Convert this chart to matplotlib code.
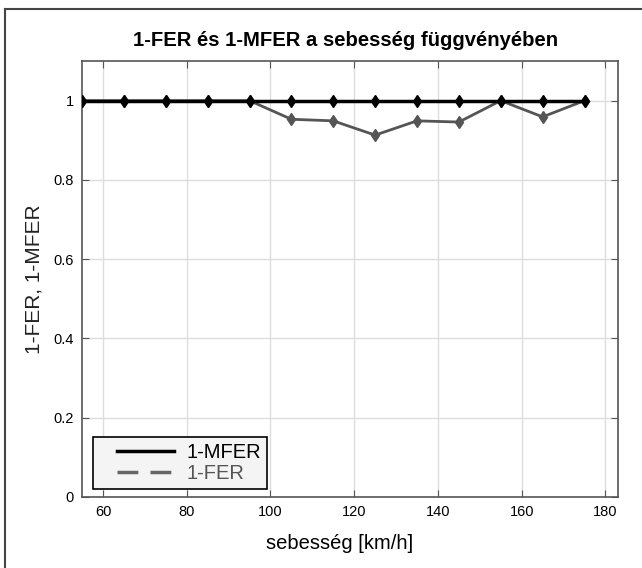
import numpy as np
import matplotlib
matplotlib.use("Agg")
import matplotlib.pyplot as plt
from matplotlib.lines import Line2D
from matplotlib.legend_handler import HandlerLine2D

plt.rcParams['font.family'] = ['Liberation Sans', 'DejaVu Sans']

# sebesség [km/h]
speed = [55, 65, 75, 85, 95, 105, 115, 125, 135, 145, 155, 165, 175]
one_mfer = [1, 1, 1, 1, 1, 1, 1, 1, 1, 1, 1, 1, 1]
one_fer = [1, 1, 1, 1, 1, 0.953, 0.949, 0.913, 0.949, 0.946, 1.0, 0.959, 1.0]

xticks = [60, 80, 100, 120, 140, 160, 180]
yticks = [0, 0.2, 0.4, 0.6, 0.8, 1]
ytick_labels = ['0', '0.2', '0.4', '0.6', '0.8', '1']


class PaddedLine(HandlerLine2D):
    """Jelmagyarázat vonala kicsit beljebb kezdődik (mint a MATLAB-ban)."""
    shift = 13

    def create_artists(self, legend, orig_handle, xdescent, ydescent,
                       width, height, fontsize, trans):
        return super().create_artists(legend, orig_handle,
                                      xdescent - self.shift, ydescent,
                                      width - self.shift, height, fontsize, trans)


fig = plt.figure(figsize=(6.42, 5.68), dpi=100)
ax = fig.add_axes([82 / 642, 1 - 497 / 568, (618 - 82) / 642, (497 - 61) / 568])

# keret a kép körül (csak fent és balra látszik)
fig.add_artist(Line2D([5 / 642, 5 / 642], [0, 1 - 9 / 568], transform=fig.transFigure,
                      color='#444444', lw=1.5))
fig.add_artist(Line2D([5 / 642, 1], [1 - 9 / 568, 1 - 9 / 568], transform=fig.transFigure,
                      color='#444444', lw=1.5))

ax.plot(speed, one_fer, color='#555555', lw=2, marker='d', ms=6, zorder=3)
ax.plot(speed, one_mfer, color='black', lw=2.5, marker='d', ms=6.5, zorder=4)

ax.set_xlim(55, 183)
ax.set_ylim(0, 1.1)
ax.set_xticks(xticks)
ax.set_yticks(yticks)
ax.set_yticklabels(ytick_labels)
ax.grid(True, color='#dddddd', lw=1)
ax.set_axisbelow(True)
ax.tick_params(direction='in', top=True, right=True, labelsize=10.5, length=5,
               color='#555555', pad=6)
for s in ax.spines.values():
    s.set_color('#555555')
    s.set_linewidth(1.2)

ax.set_title('1-FER és 1-MFER a sebesség függvényében', fontsize=14.6,
             fontweight='bold', pad=11, x=(346 - 82) / 536)
ax.set_xlabel('sebesség [km/h]', fontsize=14.5, labelpad=5)
ax.xaxis.set_label_coords((340 - 82) / 536, -0.085)
ax.set_ylabel('1-FER, 1-MFER', fontsize=15, color='#222222', labelpad=7)

handles = [Line2D([], [], color='black', lw=2.5),
           Line2D([], [], color='#666666', lw=2.5, ls=(0, (6, 3.5)))]
leg = ax.legend(handles, ['1-MFER', '1-FER'], loc='lower left',
                bbox_to_anchor=(0.02, 0.018), fontsize=14.5, handlelength=3.75,
                fancybox=False, framealpha=1, borderpad=0.3, labelspacing=0.1,
                handletextpad=0.6, borderaxespad=0,
                handler_map={Line2D: PaddedLine()})
leg.get_frame().set_edgecolor('black')
leg.get_frame().set_facecolor('#f4f4f4')
leg.get_frame().set_linewidth(1.2)
leg.get_texts()[1].set_color('#555555')

fig.savefig('out.png', dpi=100)
